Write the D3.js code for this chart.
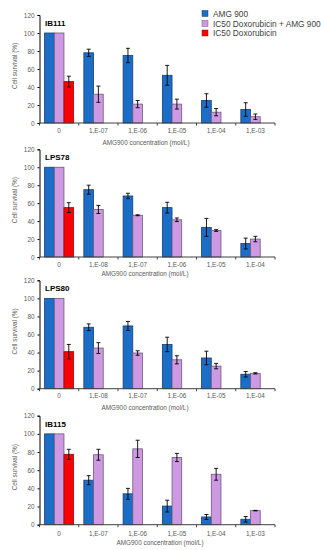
<!DOCTYPE html>
<html>
  <head>
    <meta charset="utf-8">
    <title>Cell survival</title>
<style>
body { margin: 0; background: #fff; }
text { font-family: "Liberation Sans", Arial, sans-serif; }
.tick text { fill: #595959; }
</style>
	<script src="https://d3js.org/d3.v7.min.js"></script>
  </head>
  <body>
	<script type="text/javascript">

		// series names
		var seriesNames = ["AMG 900", "IC50 Doxorubicin + AMG 900", "IC50 Doxorubicin"];
		var yTicks = [0, 20, 40, 60, 80, 100, 120];

		// IB111
		var ib111Cats = ["0", "1,E-07", "1,E-06", "1,E-05", "1,E-04", "1,E-03"];
		var ib111Amg = [100, 78, 75, 53, 25, 15];
		var ib111AmgErr = [0, 4, 8, 11, 7.5, 7.5];
		var ib111Combo = [100, 32, 21, 21, 12, 7];
		var ib111ComboErr = [0, 9, 4, 5.5, 4, 3];
		var ib111Doxo = [46];
		var ib111DoxoErr = [6];

		// LPS78
		var lps78Cats = ["0", "1,E-08", "1,E-07", "1,E-06", "1,E-05", "1,E-04"];
		var lps78Amg = [100, 75, 68, 55, 33, 15];
		var lps78AmgErr = [0, 5, 3, 6, 10, 6];
		var lps78Combo = [100, 53, 46.5, 41.5, 29.5, 20];
		var lps78ComboErr = [0, 4.5, 0.5, 2, 1, 3];
		var lps78Doxo = [55];
		var lps78DoxoErr = [5.5];

		// LPS80
		var lps80Cats = ["0", "1,E-08", "1,E-07", "1,E-06", "1,E-05", "1,E-04"];
		var lps80Amg = [100, 68, 69.5, 49, 34, 16];
		var lps80AmgErr = [0, 3.7, 5, 8, 7.5, 3];
		var lps80Combo = [100, 45, 39.5, 32, 25, 17];
		var lps80ComboErr = [0, 6, 2.5, 4.5, 3, 0.7];
		var lps80Doxo = [41];
		var lps80DoxoErr = [8];

		// IB115
		var ib115Cats = ["0", "1,E-07", "1,E-06", "1,E-05", "1,E-04", "1,E-03"];
		var ib115Amg = [100, 49, 34, 20.5, 8.5, 6];
		var ib115AmgErr = [0, 5, 6, 6.5, 2.7, 3];
		var ib115Combo = [100, 77, 83.5, 74, 55.5, 15.5];
		var ib115ComboErr = [0, 6, 9.5, 4.5, 6.5, 0.3];
		var ib115Doxo = [77.5];
		var ib115DoxoErr = [5.5];

		var panels = [
			{name: "IB111", cats: ib111Cats, vals: [ib111Amg, ib111Combo, ib111Doxo], errs: [ib111AmgErr, ib111ComboErr, ib111DoxoErr],
			 top: 15, bottom: 123, tickY: 133, labelY: 145, labelX: 146},
			{name: "LPS78", cats: lps78Cats, vals: [lps78Amg, lps78Combo, lps78Doxo], errs: [lps78AmgErr, lps78ComboErr, lps78DoxoErr],
			 top: 149.3, bottom: 257, tickY: 267, labelY: 276, labelX: 145},
			{name: "LPS80", cats: lps80Cats, vals: [lps80Amg, lps80Combo, lps80Doxo], errs: [lps80AmgErr, lps80ComboErr, lps80DoxoErr],
			 top: 280.3, bottom: 388.7, tickY: 398, labelY: 410, labelX: 145},
			{name: "IB115", cats: ib115Cats, vals: [ib115Amg, ib115Combo, ib115Doxo], errs: [ib115AmgErr, ib115ComboErr, ib115DoxoErr],
			 top: 415.7, bottom: 524.7, tickY: 536, labelY: 545, labelX: 160}
		];

		var fills = ["#1b6ec8", "#cc99e2", "#ff0000"];
		var strokes = ["#1c3c6e", "#6f5a7c", "#8a1010"];

		var left = 39.5, right = 275;

		var svg = d3.select("body").append("svg")
			.attr("width", 321)
			.attr("height", 550);

		panels.forEach(function(p) {
			var g = svg.append("g");

			var x = d3.scaleBand().domain(p.cats).range([left, right])
				.paddingInner(0.26).paddingOuter(0.13);
			var xs = d3.scaleBand().domain([0, 1, 2]).range([0, x.bandwidth()]);
			var y = d3.scaleLinear().domain([0, 120]).range([p.bottom, p.top]);
			var step = x.step();

			// bars
			p.vals.forEach(function(vals, s) {
				var rows = vals.map(function(v, i) { return {cat: p.cats[i], v: v, e: p.errs[s][i]}; });
				g.selectAll(".bar" + s).data(rows).enter().append("rect")
					.attr("x", function(d) { return x(d.cat) + xs(s); })
					.attr("y", function(d) { return y(d.v); })
					.attr("width", xs.bandwidth())
					.attr("height", function(d) { return y(0) - y(d.v); })
					.attr("fill", fills[s])
					.attr("stroke", strokes[s])
					.attr("stroke-width", 0.8);

				// error bars
				var eb = rows.filter(function(d) { return d.e > 0; });
				var cx = function(d) { return x(d.cat) + xs(s) + xs.bandwidth() / 2; };
				g.selectAll(".err" + s).data(eb).enter().append("path")
					.attr("d", function(d) {
						var c = cx(d), t = y(d.v + d.e), b = y(d.v - d.e);
						return "M" + c + "," + t + "V" + b +
							"M" + (c - 2) + "," + t + "H" + (c + 2) +
							"M" + (c - 2) + "," + b + "H" + (c + 2);
					})
					.attr("stroke", "#000")
					.attr("stroke-width", 0.9)
					.attr("fill", "none");
			});

			// y axis
			var yAxis = g.append("g")
				.attr("transform", "translate(" + left + ",0)")
				.call(d3.axisLeft(y).tickValues(yTicks).tickSize(2).tickPadding(3));
			yAxis.select(".domain").attr("stroke", "#000").attr("stroke-width", 1);
			yAxis.selectAll(".tick line").attr("stroke", "#000");
			yAxis.selectAll(".tick text").style("font-size", "6.4px").style("font-family", "Liberation Sans, Arial, sans-serif");

			// x axis
			g.append("line")
				.attr("x1", left).attr("x2", right)
				.attr("y1", y(0)).attr("y2", y(0))
				.attr("stroke", "#404040").attr("stroke-width", 1);
			g.selectAll(".xtick").data(d3.range(p.cats.length + 1)).enter().append("line")
				.attr("x1", function(i) { return left + i * step; })
				.attr("x2", function(i) { return left + i * step; })
				.attr("y1", y(0)).attr("y2", y(0) + 2.5)
				.attr("stroke", "#404040");
			g.selectAll(".xlab").data(p.cats).enter().append("text")
				.attr("x", function(d) { return x(d) + x.bandwidth() / 2; })
				.attr("y", p.tickY)
				.attr("text-anchor", "middle")
				.style("font-size", "6.4px")
				.attr("fill", "#595959")
				.text(function(d) { return d; });

			// axis titles
			g.append("text")
				.attr("x", p.labelX).attr("y", p.labelY)
				.attr("text-anchor", "middle")
				.style("font-size", "6.4px")
				.attr("fill", "#595959")
				.text("AMG900 concentration (mol/L)");
			g.append("text")
				.attr("transform", "translate(17," + ((p.top + p.bottom) / 2 - 3) + ") rotate(-90)")
				.attr("text-anchor", "middle")
				.style("font-size", "6.4px")
				.attr("fill", "#595959")
				.text("Cell survival (%)");

			// panel title
			g.append("text")
				.attr("x", 45).attr("y", p.top + 11)
				.style("font-size", "8px")
				.style("font-weight", "bold")
				.attr("fill", "#000")
				.text(p.name);
		});

		// legend
		var legend = svg.append("g");
		var ly = [13.5, 23.5, 33];
		seriesNames.forEach(function(n, i) {
			legend.append("rect")
				.attr("x", 202).attr("y", ly[i] - 3)
				.attr("width", 6).attr("height", 6)
				.attr("fill", fills[i])
				.attr("stroke", strokes[i]).attr("stroke-width", 0.5);
			legend.append("text")
				.attr("x", 213).attr("y", ly[i] + 3)
				.style("font-size", "8.3px")
				.attr("fill", "#404040")
				.text(n);
		});

    </script>
  </body>
</html>
